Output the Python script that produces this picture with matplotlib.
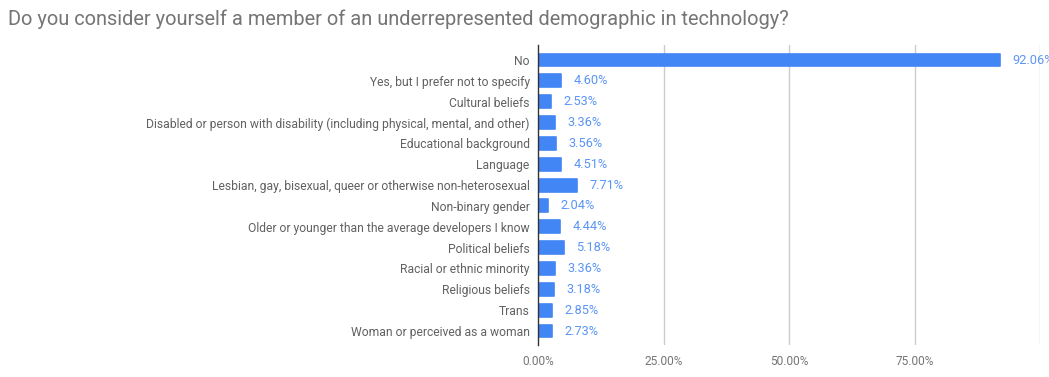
import matplotlib
matplotlib.use("Agg")
import matplotlib.pyplot as plt

categories = [
    "No",
    "Yes, but I prefer not to specify",
    "Cultural beliefs",
    "Disabled or person with disability (including physical, mental, and other)",
    "Educational background",
    "Language",
    "Lesbian, gay, bisexual, queer or otherwise non-heterosexual",
    "Non-binary gender",
    "Older or younger than the average developers I know",
    "Political beliefs",
    "Racial or ethnic minority",
    "Religious beliefs",
    "Trans",
    "Woman or perceived as a woman",
]
values = [92.06, 4.60, 2.53, 3.36, 3.56, 4.51, 7.71, 2.04, 4.44, 5.18, 3.36, 3.18, 2.85, 2.73]
x_ticks = [0, 25, 50, 75]
x_tick_labels = ["0.00%", "25.00%", "50.00%", "75.00%"]
title = "Do you consider yourself a member of an underrepresented demographic in technology?"

plt.rcParams['font.family'] = ['Roboto', 'DejaVu Sans']
W, H = 1049, 377
fig = plt.figure(figsize=(W / 100, H / 100), dpi=100)
ax = fig.add_axes([538 / W, (H - 345) / H, (1040 - 538) / W, 300 / H])

blue = "#4285F4"
ypos = list(range(len(categories)))
bars = ax.barh(ypos, values, height=0.62, color=blue, edgecolor=blue, linewidth=1.2, zorder=3)
for b in bars:
    b.set_joinstyle('round')

for y, v in zip(ypos, values):
    ax.annotate(f"{v:.2f}%", xy=(v, y), xytext=(9, 0), textcoords="offset points",
                va="center", ha="left", fontsize=9.2, color="#5a95f5")

ax.set_xlim(0, 100)
ax.set_ylim(13.67, -0.72)
ax.set_yticks(ypos)
ax.set_yticklabels(categories, fontsize=8.7, color="#616161")
ax.set_xticks(x_ticks)
ax.set_xticklabels(x_tick_labels, fontsize=8.6, color="#757575")
ax.tick_params(axis="both", length=0)
ax.tick_params(axis="y", pad=6)
ax.tick_params(axis="x", pad=7)

for gx in [25, 50, 75, 100]:
    ax.axvline(gx, color="#cccccc", linewidth=1, zorder=1)

for s in ["top", "right", "bottom"]:
    ax.spines[s].set_visible(False)
ax.spines["left"].set_color("#333333")
ax.spines["left"].set_linewidth(1)
ax.spines["left"].set_zorder(4)

fig.text(8 / W, 1 - 19 / H, title, fontsize=14.4, color="#757575", ha="left", va="center")

fig.savefig("out.png", dpi=100, facecolor="white")
